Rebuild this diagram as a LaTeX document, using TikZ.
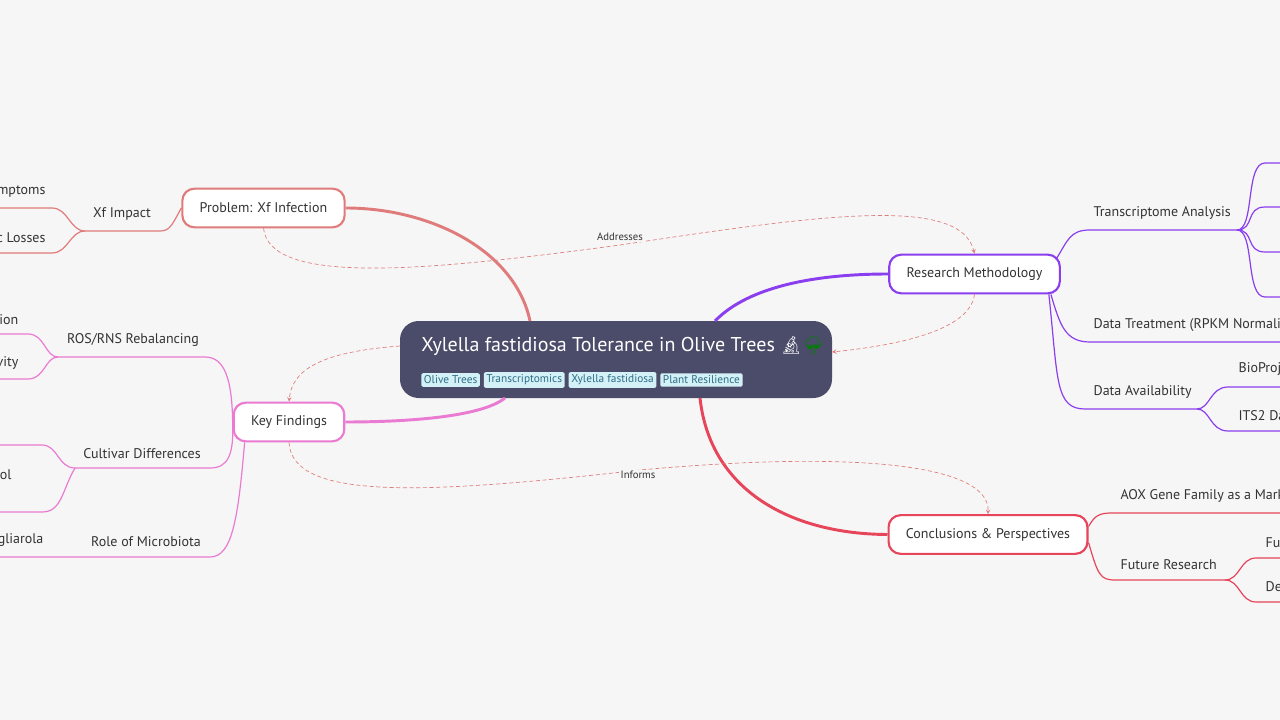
\documentclass[tikz,border=0pt]{standalone}
\usepackage{fontspec}
\setmainfont{PT Sans}
\newfontfamily\emojifont{Noto Emoji}
\usetikzlibrary{positioning}
\definecolor{bgc}{HTML}{F6F6F6}
\definecolor{rootc}{HTML}{4B4C69}
\definecolor{tagc}{HTML}{D4F1F8}
\definecolor{tagt}{HTML}{2E6E86}
\definecolor{probc}{HTML}{E07B7B}
\definecolor{keyc}{HTML}{EA7AD2}
\definecolor{resc}{HTML}{8B3EEF}
\definecolor{conc}{HTML}{E6455A}
\definecolor{txtc}{HTML}{333333}
\tikzset{
  topic/.style={draw=#1, line width=1.6pt, fill=white, rounded corners=9pt, minimum height=29pt, inner xsep=13pt, font=\fontsize{10.5}{12}\selectfont, text=txtc},
  leaf/.style={inner sep=1pt, font=\fontsize{10.5}{12}\selectfont, text=txtc},
  tag/.style={fill=tagc, text=tagt, rounded corners=1.5pt, inner xsep=2pt, inner ysep=2pt, font=\fontsize{8.5}{10}\selectfont},
  twig/.style={draw=#1, line width=0.9pt},
  trunk/.style={draw=#1, line width=2.2pt},
  link/.style={draw=probc, dashed, dash pattern=on 3pt off 2pt, line width=0.5pt, ->, >=stealth},
}
\begin{document}
\begin{tikzpicture}[x=0.75pt, y=-0.75pt]
\useasboundingbox (0,0) rectangle (1280,720);
\fill[bgc] (0,0) rectangle (1280,720);
\clip (0,0) rectangle (1280,720);

% root
\fill[rootc, rounded corners=14pt] (400,321) rectangle (832,398);
\node[anchor=west, text=white, font=\fontsize{15}{18}\selectfont, inner sep=0pt] (root) at (421,346) {Xylella fastidiosa Tolerance in Olive Trees {\emojifont\fontsize{13}{15}\selectfont 🔬\color{green!50!black}🌳}};
\node[tag, anchor=west] (t1) at (421,380) {Olive Trees};
\node[tag, right=2.5pt of t1] (t2) {Transcriptomics};
\node[tag, right=2.5pt of t2] (t3) {Xylella fastidiosa};
\node[tag, right=2.5pt of t3] (t4) {Plant Resilience};
\coordinate (rootN1) at (530,321);
\coordinate (rootN2) at (715,321);
\coordinate (rootS1) at (505,398);
\coordinate (rootS2) at (700,398);

% main topics
\node[topic=probc] (prob) at (263.5,208) {Problem: Xf Infection};
\node[topic=keyc] (key) at (289,422) {Key Findings};
\node[topic=resc] (res) at (974.5,274) {Research Methodology};
\node[topic=conc] (con) at (988,534.5) {Conclusions \& Perspectives};

\draw[trunk=probc] (rootN1) .. controls (515,250) and (430,208) .. (prob.east);
\draw[trunk=keyc] (rootS1) .. controls (480,418) and (400,422) .. (key.east);
\draw[trunk=resc] (rootN2) .. controls (750,285) and (820,274) .. (res.west);
\draw[trunk=conc] (rootS2) .. controls (710,490) and (790,534) .. (con.west);

% problem branch
\node[leaf, anchor=south] (impact) at (122,222) {Xf Impact};
\coordinate (impL) at (85,231);
\draw[twig=probc] (prob.west) .. controls (172,225) and (170,231) .. (160,231) -- (impL);
\node[leaf, anchor=south east] (sym) at (47,199) {mptoms};
\node[leaf, anchor=south east] (loss) at (47,244) {c Losses};
\draw[twig=probc] (impL) .. controls (70,231) and (68,208) .. (52,208) -- (0,208);
\draw[twig=probc] (impL) .. controls (70,231) and (68,253) .. (52,253) -- (0,253);

% key findings branch
\node[leaf, anchor=south] (ros) at (133,348) {ROS/RNS Rebalancing};
\coordinate (rosL) at (58,357);
\draw[twig=keyc] (key.west) .. controls (232,380) and (225,357) .. (205,357) -- (rosL);
\node[leaf, anchor=south east] (ros1) at (20,326) {tion};
\node[leaf, anchor=south east] (ros2) at (20,371) {vity};
\draw[twig=keyc] (rosL) .. controls (45,357) and (45,334) .. (28,334) -- (0,334);
\draw[twig=keyc] (rosL) .. controls (45,357) and (45,379) .. (28,379) -- (0,379);

\node[leaf, anchor=south] (cult) at (142,460) {Cultivar Differences};
\coordinate (cultL) at (75,468);
\draw[twig=keyc] (key.west) .. controls (234,455) and (228,468) .. (210,468) -- (cultL);
\node[leaf, anchor=south east] (cult1) at (13,481) {ol};
\draw[twig=keyc] (cultL) .. controls (58,468) and (58,445) .. (42,445) -- (0,445);
\draw[twig=keyc] (cultL) .. controls (62,490) and (62,512) .. (42,512) -- (0,512);

\node[leaf, anchor=south] (micro) at (146,548) {Role of Microbiota};
\node[leaf, anchor=south east] (micro1) at (45,548) {gliarola};
\draw[twig=keyc] (key.south west) ++(12,0) .. controls (238,520) and (232,557) .. (210,557) -- (0,557);

% research branch
\node[leaf, anchor=south west] (trans) at (1092,221) {Transcriptome Analysis};
\coordinate (transR) at (1237,230);
\draw[twig=resc] (res.north east) ++(-5,6) .. controls (1068,240) and (1070,230) .. (1090,230) -- (transR);
\foreach \y in {163,207,252,297}
  \draw[twig=resc] (transR) .. controls (1255,230) and (1245,\y) .. (1265,\y) -- (1280,\y);
\node[leaf, anchor=south west] (treat) at (1092,333) {Data Treatment (RPKM Normali};
\draw[twig=resc] (res.south east) ++(-10,0) .. controls (1060,325) and (1065,342) .. (1090,342) -- (1280,342);
\node[leaf, anchor=south west] (avail) at (1092,400) {Data Availability};
\coordinate (availR) at (1197,409);
\draw[twig=resc] (res.south east) ++(-12,0) .. controls (1058,380) and (1055,409) .. (1085,409) -- (availR);
\node[leaf, anchor=south west] (bio) at (1237,377) {BioProj};
\node[leaf, anchor=south west] (its) at (1237,422) {ITS2 Da};
\draw[twig=resc] (availR) .. controls (1210,409) and (1210,387) .. (1228,387) -- (1280,387);
\draw[twig=resc] (availR) .. controls (1210,409) and (1210,431) .. (1228,431) -- (1280,431);

% conclusions branch
\node[leaf, anchor=south west] (aox) at (1119,504) {AOX Gene Family as a Mark};
\draw[twig=conc] (con.east) ++(0,-8) .. controls (1095,515) and (1100,513) .. (1112,513) -- (1280,513);
\node[leaf, anchor=south west] (fut) at (1119,571) {Future Research};
\coordinate (futR) at (1225,580);
\draw[twig=conc] (con.east) ++(0,8) .. controls (1098,575) and (1100,580) .. (1115,580) -- (futR);
\node[leaf, anchor=south west] (fu) at (1264,549) {Fu};
\node[leaf, anchor=south west] (de) at (1264,593) {De};
\draw[twig=conc] (futR) .. controls (1240,580) and (1240,558) .. (1256,558) -- (1280,558);
\draw[twig=conc] (futR) .. controls (1240,580) and (1240,602) .. (1256,602) -- (1280,602);

% cross links
\draw[link] (prob.south) .. controls (270,285) and (420,272) .. (620,245) .. controls (820,215) and (960,195) .. (res.north);
\node[font=\fontsize{8}{9}\selectfont, text=txtc, fill=bgc, inner sep=1pt] (addr) at (620,237) {Addresses};
\draw[link] (res.south) .. controls (970,330) and (900,345) .. (832,352);
\draw[link] (400,346) .. controls (320,352) and (292,370) .. (key.north);
\draw[link] (key.south) .. controls (292,500) and (420,495) .. (640,470) .. controls (860,450) and (990,465) .. (con.north);
\node[font=\fontsize{8}{9}\selectfont, text=txtc, fill=bgc, inner sep=1pt] (inf) at (638,475) {Informs};
\end{tikzpicture}
\end{document}
